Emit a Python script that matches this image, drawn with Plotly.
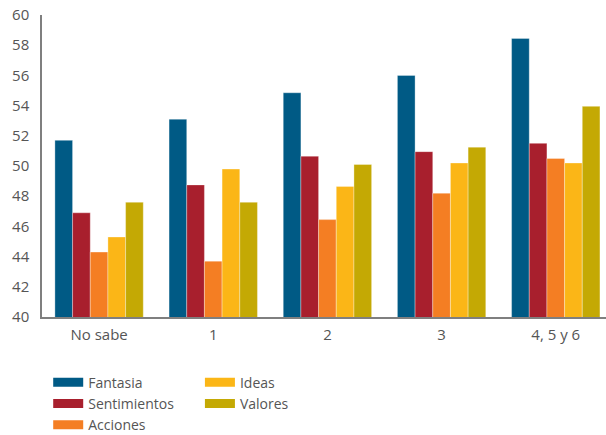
import plotly.graph_objects as go

categories = ["No sabe", "1", "2", "3", "4, 5 y 6"]
series_names = ["Fantasia", "Sentimientos", "Acciones", "Ideas", "Valores"]
fantasia = [51.7, 53.1, 54.85, 56.0, 58.45]
sentimientos = [46.9, 48.75, 50.65, 50.95, 51.5]
acciones = [44.3, 43.7, 46.45, 48.2, 50.5]
ideas = [45.3, 49.8, 48.65, 50.2, 50.2]
valores = [47.6, 47.6, 50.1, 51.25, 53.95]
y_ticks = list(range(40, 61, 2))

colors = ["#005A85", "#A81F2D", "#F47E23", "#FBB617", "#C4A904"]
values = [fantasia, sentimientos, acciones, ideas, valores]
legend_ids = ["legend", "legend", "legend", "legend2", "legend2"]

FONT = "Open Sans"
fig = go.Figure()
for name, vals, col in zip(series_names, values, colors):
    fig.add_trace(go.Bar(
        x=categories, y=vals, name=name, marker_color=col,
        marker_line=dict(width=0.6, color="rgba(255,255,255,0.55)"),
        showlegend=False, legendgroup=name,
    ))
# legend entries (wide swatches)
for name, col, lg in zip(series_names, colors, legend_ids):
    fig.add_trace(go.Scatter(
        x=[None], y=[None], mode="lines", name=name, legendgroup=name,
        line=dict(color=col, width=9), legend=lg, showlegend=True,
    ))

fig.update_layout(
    width=606, height=435,
    margin=dict(l=42, r=0, t=15, b=118),
    paper_bgcolor="white", plot_bgcolor="white",
    barmode="group", bargap=0.226, bargroupgap=0,
    font=dict(family=FONT, size=14, color="#555555"),
    xaxis=dict(
        type="category", range=[-0.5, 4.44], automargin=False,
        showline=True, linecolor="#7f7f7f", linewidth=1.5,
        showgrid=False, ticks="", ticklabelstandoff=3,
        tickfont=dict(size=15, color="#555555"),
    ),
    yaxis=dict(
        range=[40, 60], tickvals=y_ticks, showline=True, linecolor="#7f7f7f",
        linewidth=1.5, showgrid=False, zeroline=False, ticks="",
        automargin=False, ticklabelstandoff=8,
        tickfont=dict(size=15, color="#555555"),
    ),
    legend=dict(
        x=0.011, y=0.157, yref="container", xanchor="left", yanchor="top",
        orientation="v", bgcolor="rgba(0,0,0,0)",
        font=dict(size=14, color="#555555"), tracegroupgap=0,
    ),
    legend2=dict(
        x=0.28, y=0.157, yref="container", xanchor="left", yanchor="top",
        orientation="v", bgcolor="rgba(0,0,0,0)",
        font=dict(size=14, color="#555555"), tracegroupgap=0,
    ),
)

# remove the page's default body margin so the figure fills the window exactly
fig.write_html(
    "out.html",
    config={"displayModeBar": False},
    post_script="document.body.style.margin='0';",
)
